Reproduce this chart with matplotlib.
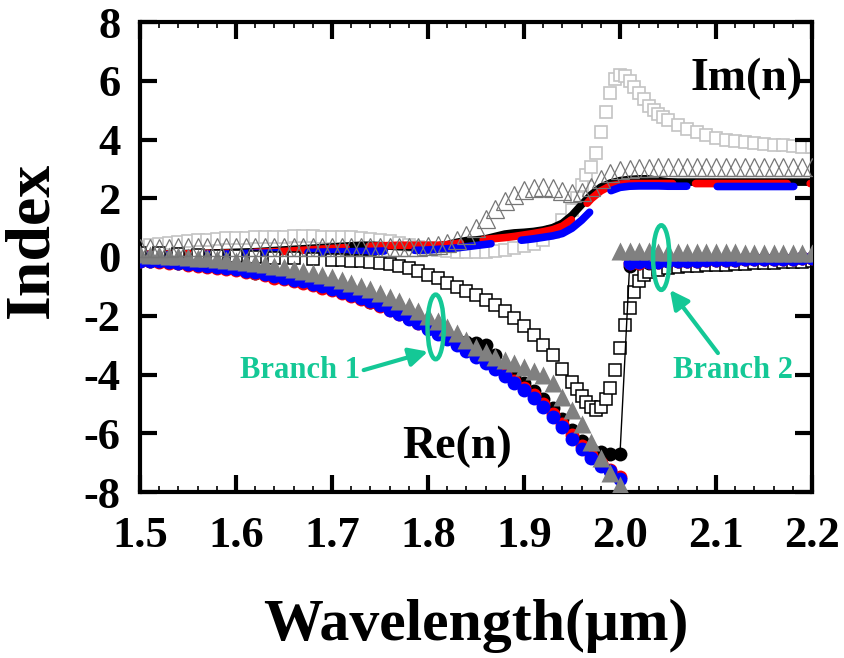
"""Complex index of the two branches, Re(n) and Im(n) against wavelength."""

import matplotlib
matplotlib.use("Agg")
import matplotlib.pyplot as plt
from matplotlib import ticker
from matplotlib.patches import Ellipse

plt.rcParams['font.family'] = ['Liberation Serif', 'DejaVu Serif']
plt.rcParams['font.weight'] = 'bold'

# ---- data ----
x_main = [1.50, 1.51, 1.52, 1.53, 1.54, 1.55, 1.56, 1.57, 1.58, 1.59,
          1.60, 1.61, 1.62, 1.63, 1.64, 1.65, 1.66, 1.67, 1.68, 1.69,
          1.70, 1.71, 1.72, 1.73, 1.74, 1.75, 1.76, 1.77, 1.78, 1.79,
          1.80, 1.81, 1.82, 1.83, 1.84, 1.85, 1.86, 1.87, 1.88, 1.89,
          1.90, 1.91, 1.92, 1.93, 1.94, 1.95, 1.96, 1.97, 1.98, 1.99,
          2.00]
x_tail = [2.01, 2.02, 2.03, 2.04, 2.05, 2.06, 2.07, 2.08, 2.09, 2.10,
          2.11, 2.12, 2.13, 2.14, 2.15, 2.16, 2.17, 2.18, 2.19, 2.20]
x_full = x_main + x_tail

# Re(n), branch 1 (circles)
re_blue = [-0.12, -0.13, -0.15, -0.17, -0.20, -0.23, -0.27, -0.30, -0.34, -0.37,
           -0.40, -0.46, -0.52, -0.58, -0.65, -0.71, -0.77, -0.83, -0.92, -1.00,
           -1.10, -1.20, -1.30, -1.40, -1.50, -1.65, -1.80, -1.95, -2.10, -2.25,
           -2.45, -2.62, -2.80, -2.98, -3.20, -3.40, -3.60, -3.80, -4.05, -4.30,
           -4.53, -4.80, -5.10, -5.45, -5.80, -6.20, -6.55, -6.85, -7.10, -7.30,
           -7.55]
re_red = [-0.14, -0.15, -0.17, -0.19, -0.22, -0.26, -0.30, -0.34, -0.38, -0.42,
          -0.45, -0.50, -0.56, -0.62, -0.70, -0.76, -0.82, -0.88, -0.96, -1.04,
          -1.12, -1.22, -1.32, -1.42, -1.52, -1.66, -1.80, -1.94, -2.08, -2.24,
          -2.42, -2.58, -2.76, -2.94, -3.14, -3.34, -3.54, -3.74, -3.98, -4.22,
          -4.45, -4.70, -5.00, -5.33, -5.68, -6.05, -6.42, -6.75, -7.02, -7.25,
          -7.50]
re_black = [-0.12, -0.13, -0.15, -0.17, -0.20, -0.23, -0.27, -0.30, -0.34, -0.38,
            -0.42, -0.47, -0.53, -0.59, -0.66, -0.72, -0.78, -0.85, -0.93, -1.01,
            -1.10, -1.20, -1.30, -1.40, -1.52, -1.64, -1.78, -1.92, -2.06, -2.20,
            -2.36, -2.52, -2.68, -2.82, -2.90, -2.92, -2.98, -3.35, -3.80, -4.05,
            -4.30, -4.55, -4.85, -5.15, -5.50, -5.90, -6.25, -6.55, -6.65, -6.70,
            -6.70]
# Re(n), branch 2 (circles)
re_black_b2 = [-0.30, -0.22, -0.19, -0.17, -0.15, -0.14, -0.13, -0.12, -0.11, -0.10,
               -0.10, -0.09, -0.08, -0.08, -0.07, -0.07, -0.06, -0.06, -0.05, -0.05]
re_red_b2 = [-0.22, -0.19, -0.17, -0.16, -0.15, -0.14, -0.13, -0.12, -0.11, -0.10,
             -0.10, -0.09, -0.08, -0.08, -0.07, -0.07, -0.06, -0.06, -0.05, -0.05]
re_blue_b2 = [-0.20, -0.18, -0.17, -0.16, -0.15, -0.14, -0.13, -0.12, -0.11, -0.10,
              -0.10, -0.09, -0.08, -0.08, -0.07, -0.07, -0.06, -0.06, -0.05, -0.05]

# Im(n) (thick lines)
im_black = [0.08, 0.09, 0.10, 0.10, 0.11, 0.12, 0.12, 0.13, 0.14, 0.15,
            0.16, 0.17, 0.18, 0.20, 0.22, 0.24, 0.26, 0.28, 0.30, 0.32,
            0.34, 0.36, 0.38, 0.40, 0.40, 0.39, 0.37, 0.35, 0.34, 0.34,
            0.35, 0.38, 0.42, 0.50, 0.56, 0.58, 0.62, 0.70, 0.78, 0.82,
            0.84, 0.87, 0.92, 1.00, 1.15, 1.42, 1.78, 2.12, 2.38, 2.52,
            2.60, 2.64, 2.66, 2.66, 2.60, 2.56, 2.55, 2.55, 2.55, 2.55,
            2.55, 2.55, 2.55, 2.55, 2.55, 2.55, 2.55, 2.55, 2.55, 2.55,
            2.55]
im_red = [0.08, 0.09, 0.09, 0.10, 0.10, 0.11, 0.11, 0.12, 0.12, 0.13,
          0.14, 0.15, 0.16, 0.17, 0.18, 0.19, 0.21, 0.23, 0.25, 0.27,
          0.29, 0.31, 0.33, 0.35, 0.37, 0.38, 0.39, 0.40, 0.40, 0.40,
          0.40, 0.40, 0.42, 0.46, 0.51, 0.56, 0.60, 0.63, 0.66, 0.70,
          0.75, 0.80, 0.86, 0.93, 1.05, 1.28, 1.62, 1.98, 2.25, 2.42,
          2.48, 2.50, 2.50, 2.50, 2.50, 2.50, 2.50, 2.50, 2.50, 2.50,
          2.50, 2.50, 2.50, 2.50, 2.50, 2.50, 2.50, 2.50, 2.50, 2.50,
          2.50]
im_blue = [0.05, 0.06, 0.06, 0.07, 0.07, 0.08, 0.08, 0.09, 0.09, 0.10,
           0.11, 0.12, 0.13, 0.13, 0.14, 0.15, 0.15, 0.16, 0.16, 0.17,
           0.17, 0.18, 0.18, 0.19, 0.19, 0.20, 0.21, 0.22, 0.22, 0.23,
           0.24, 0.26, 0.28, 0.31, 0.35, 0.39, 0.43, 0.47, 0.51, 0.55,
           0.58, 0.62, 0.67, 0.72, 0.80, 0.98, 1.25, 1.58, 1.95, 2.25,
           2.37, 2.41, 2.42, 2.42, 2.42, 2.41, 2.41, 2.41, 2.41, 2.41,
           2.40, 2.40, 2.40, 2.40, 2.40, 2.40, 2.40, 2.40, 2.40, 2.40,
           2.40]

# filled grey triangles: Re(n), branch 1 and branch 2
tri_re_b1 = [0.10, 0.08, 0.06, 0.04, 0.02, 0.00, -0.02, -0.05, -0.08, -0.10,
             -0.13, -0.17, -0.21, -0.25, -0.30, -0.35, -0.41, -0.47, -0.53, -0.60,
             -0.68, -0.77, -0.87, -0.98, -1.10, -1.22, -1.36, -1.50, -1.66, -1.83,
             -2.00, -2.18, -2.38, -2.60, -2.82, -3.05, -3.25, -3.40, -3.52, -3.62,
             -3.75, -3.88, -4.02, -4.30, -4.75, -5.20, -5.70, -6.30, -6.85, -7.35,
             -7.75]
x_tri_b2 = [2.00] + x_tail
tri_re_b2 = [0.20, 0.20, 0.19, 0.19, 0.18, 0.18, 0.18, 0.17, 0.17, 0.17,
             0.16, 0.16, 0.16, 0.15, 0.15, 0.15, 0.14, 0.14, 0.14, 0.13,
             0.13]

# open grey triangles: Im(n)
tri_im = [0.30, 0.31, 0.32, 0.32, 0.33, 0.33, 0.33, 0.34, 0.34, 0.34,
          0.34, 0.34, 0.34, 0.34, 0.34, 0.34, 0.34, 0.34, 0.34, 0.34,
          0.34, 0.34, 0.34, 0.34, 0.34, 0.34, 0.34, 0.34, 0.35, 0.35,
          0.36, 0.40, 0.47, 0.58, 0.75, 1.00, 1.30, 1.62, 1.92, 2.12,
          2.27, 2.36, 2.40, 2.36, 2.26, 2.18, 2.20, 2.40, 2.65, 2.85,
          2.96, 3.01, 3.03, 3.04, 3.05, 3.05, 3.05, 3.05, 3.05, 3.05,
          3.05, 3.05, 3.05, 3.05, 3.05, 3.05, 3.05, 3.05, 3.05, 3.05,
          3.05]

# open black squares: Re(n)
x_sq = [1.50, 1.52, 1.54, 1.56, 1.58, 1.60, 1.62, 1.64, 1.66, 1.68,
        1.70, 1.71, 1.72, 1.73, 1.74, 1.75, 1.76, 1.77, 1.78, 1.79,
        1.80, 1.81, 1.82, 1.83, 1.84, 1.85, 1.86, 1.87, 1.88, 1.89,
        1.90, 1.91, 1.92, 1.93, 1.94, 1.95, 1.955, 1.96, 1.965, 1.97,
        1.975, 1.98, 1.985, 1.99, 1.995, 2.00, 2.005, 2.01, 2.015, 2.02,
        2.025, 2.03, 2.04, 2.05, 2.06, 2.07, 2.08, 2.09, 2.10, 2.11,
        2.12, 2.13, 2.14, 2.15, 2.16, 2.17, 2.18, 2.19, 2.20]
sq_re = [0.15, 0.12, 0.10, 0.08, 0.05, 0.03, 0.00, -0.02, -0.05, -0.07,
         -0.10, -0.11, -0.13, -0.15, -0.17, -0.20, -0.24, -0.30, -0.37, -0.48,
         -0.60, -0.72, -0.88, -1.02, -1.15, -1.30, -1.45, -1.65, -1.85, -2.08,
         -2.35, -2.65, -3.00, -3.35, -3.80, -4.25, -4.50, -4.72, -4.95, -5.10,
         -5.20, -5.10, -4.85, -4.45, -3.85, -3.10, -2.30, -1.75, -1.20, -0.82,
         -0.62, -0.52, -0.44, -0.39, -0.35, -0.32, -0.30, -0.28, -0.27, -0.26,
         -0.24, -0.23, -0.21, -0.20, -0.19, -0.18, -0.17, -0.16, -0.15]

# open light-grey squares: Im(n)
x_lsq = [1.50, 1.51, 1.52, 1.53, 1.54, 1.55, 1.56, 1.57, 1.58, 1.59,
         1.60, 1.61, 1.62, 1.63, 1.64, 1.65, 1.66, 1.67, 1.68, 1.69,
         1.70, 1.71, 1.72, 1.73, 1.74, 1.75, 1.76, 1.77, 1.78, 1.79,
         1.80, 1.81, 1.82, 1.83, 1.84, 1.85, 1.86, 1.87, 1.88, 1.89,
         1.90, 1.91, 1.92, 1.93, 1.94, 1.95, 1.955, 1.96, 1.965, 1.97,
         1.975, 1.98, 1.985, 1.99, 1.995, 2.00, 2.005, 2.01, 2.015, 2.02,
         2.025, 2.03, 2.035, 2.04, 2.045, 2.05, 2.06, 2.07, 2.08, 2.09,
         2.10, 2.11, 2.12, 2.13, 2.14, 2.15, 2.16, 2.17, 2.18, 2.19,
         2.20]
lsq_im = [0.35, 0.40, 0.44, 0.48, 0.51, 0.54, 0.57, 0.59, 0.61, 0.63,
          0.64, 0.66, 0.67, 0.68, 0.69, 0.69, 0.70, 0.70, 0.70, 0.69,
          0.69, 0.68, 0.67, 0.65, 0.62, 0.58, 0.53, 0.48, 0.42, 0.35,
          0.29, 0.24, 0.20, 0.18, 0.17, 0.17, 0.18, 0.21, 0.25, 0.30,
          0.36, 0.44, 0.58, 0.85, 1.25, 1.60, 2.00, 2.45, 2.80, 3.05,
          3.55, 4.25, 4.95, 5.60, 6.05, 6.20, 6.15, 6.00, 5.80, 5.60,
          5.38, 5.15, 5.00, 4.88, 4.76, 4.66, 4.50, 4.36, 4.24, 4.14,
          4.06, 4.00, 3.95, 3.91, 3.88, 3.85, 3.82, 3.80, 3.78, 3.76,
          3.75]

x_ticks = [1.5, 1.6, 1.7, 1.8, 1.9, 2.0, 2.1, 2.2]
x_ticklabels = ['1.5', '1.6', '1.7', '1.8', '1.9', '2.0', '2.1', '2.2']
y_ticks = [-8, -6, -4, -2, 0, 2, 4, 6, 8]
y_ticklabels = ['-8', '-6', '-4', '-2', '0', '2', '4', '6', '8']

green = '#14c896'

fig = plt.figure(figsize=(8.44, 6.58), dpi=100)
ax = fig.add_axes([140 / 844, 1 - 492 / 658, 672 / 844, 470 / 658])

# Im(n) curves
ax.plot(x_lsq, lsq_im, ls='none', marker='s', ms=8, mfc='white',
        mec='#c4c4c4', mew=1.2, zorder=1.5)
ax.plot(x_full, im_black, color='black', lw=5.5, solid_capstyle='round', zorder=2)
ax.plot(x_full, im_red, color='red', lw=5.5, ls=(0, (12, 3)),
        dash_capstyle='round', zorder=2.1)
ax.plot(x_full, im_blue, color='blue', lw=5.5, ls=(6, (10, 4)),
        dash_capstyle='round', zorder=2.2)

# Re(n) curves
ax.plot(x_sq, sq_re, ls='none', marker='s', ms=8, mfc='white',
        mec='black', mew=1.1, zorder=2.5)
ax.plot(x_full, re_black + re_black_b2, color='black', lw=1.0, marker='o',
        ms=10, mec='none', zorder=3)
ax.plot(x_full, re_red + re_red_b2, ls='none', marker='o', ms=10,
        color='red', mec='none', zorder=3.1)
ax.plot(x_full, re_blue + re_blue_b2, ls='none', marker='o', ms=10,
        color='blue', mec='none', zorder=3.2)
ax.plot(x_main, tri_re_b1, ls='none', marker='^', ms=13.5, color='#808080',
        mec='none', zorder=4)
ax.plot(x_tri_b2, tri_re_b2, ls='none', marker='^', ms=13.5, color='#808080',
        mec='none', zorder=4)
ax.plot(x_full, tri_im, ls='none', marker='^', ms=13.5, mfc='none',
        mec='#767676', mew=0.9, zorder=4.5)

# branch markers
for cx, cy in [(1.808, -2.38), (2.043, -0.02)]:
    ax.add_patch(Ellipse((cx, cy), 0.017, 2.2, fill=False, ec=green,
                         lw=3.2, zorder=10))
ax.annotate('', xy=(1.800, -3.22), xytext=(1.733, -3.85),
            arrowprops=dict(arrowstyle='-|>', color=green, lw=3,
                            mutation_scale=28, shrinkA=0, shrinkB=0), zorder=10)
ax.annotate('', xy=(2.052, -1.12), xytext=(2.102, -3.27),
            arrowprops=dict(arrowstyle='-|>', color=green, lw=3,
                            mutation_scale=28, shrinkA=0, shrinkB=0), zorder=10)
ax.text(1.604, -4.12, 'Branch 1', color=green, fontsize=22, fontweight='bold',
        ha='left', va='baseline', zorder=10)
ax.text(2.055, -4.12, 'Branch 2', color=green, fontsize=22, fontweight='bold',
        ha='left', va='baseline', zorder=10)
ax.text(2.073, 5.68, 'Im(n)', fontsize=33, fontweight='bold',
        ha='left', va='baseline', zorder=10)
ax.text(1.773, -6.84, 'Re(n)', fontsize=33, fontweight='bold',
        ha='left', va='baseline', zorder=10)

ax.set_xlim(1.5, 2.2)
ax.set_ylim(-8, 8)
ax.xaxis.set_major_locator(ticker.FixedLocator(x_ticks))
ax.xaxis.set_major_formatter(ticker.FixedFormatter(x_ticklabels))
ax.xaxis.set_minor_locator(ticker.MultipleLocator(0.02))
ax.yaxis.set_major_locator(ticker.FixedLocator(y_ticks))
ax.yaxis.set_major_formatter(ticker.FixedFormatter(y_ticklabels))
ax.yaxis.set_minor_locator(ticker.NullLocator())
ax.tick_params(which='major', direction='in', length=12, width=3,
               top=True, right=True, labelsize=32)
ax.tick_params(which='minor', direction='in', length=4, width=1.2,
               top=True, right=True)
ax.tick_params(axis='x', which='major', pad=17)
ax.tick_params(axis='y', which='major', pad=14)
for spine in ax.spines.values():
    spine.set_linewidth(3)

fig.text(476 / 844, 1 - 640 / 658, 'Wavelength(\u03bcm)', fontsize=43,
         fontweight='bold', ha='center', va='baseline')
fig.text(32 / 844, 1 - 240 / 658, 'Index', fontsize=46, fontweight='bold',
         rotation=90, ha='center', va='center')

fig.savefig('out.png', dpi=100)
